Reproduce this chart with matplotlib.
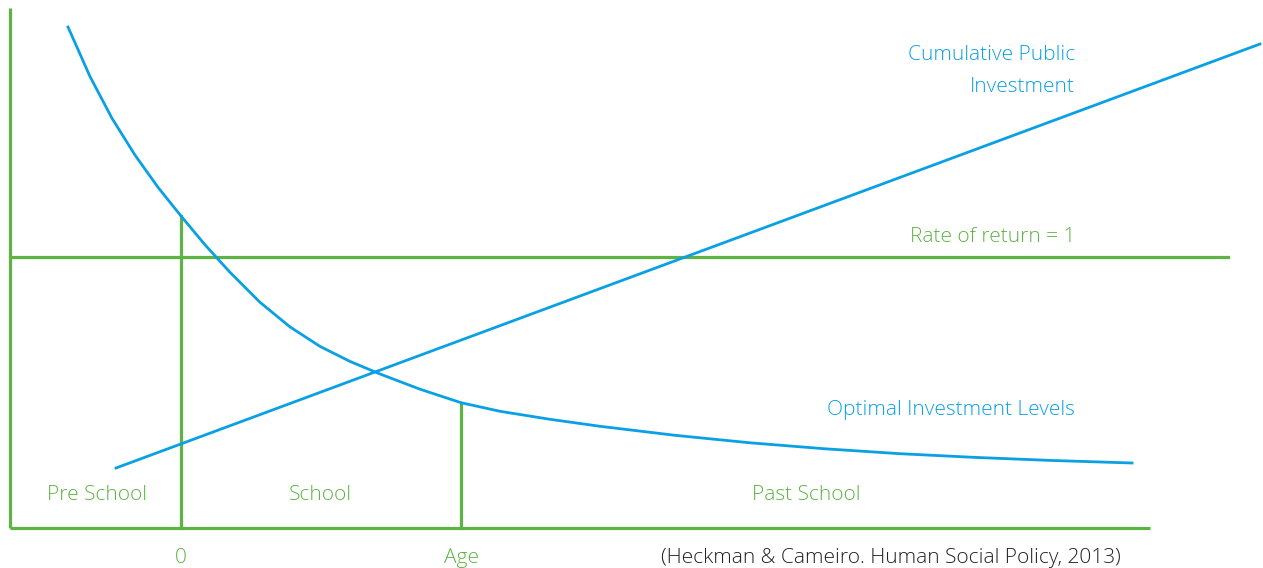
import numpy as np
import matplotlib
matplotlib.use("Agg")
import matplotlib.pyplot as plt

plt.rcParams['font.family'] = ['Open Sans', 'DejaVu Sans']

BLUE = '#0aa0e4'
GREEN = '#5db443'

# optimal investment levels (decaying curve)
opt_x = [68, 90, 112, 135, 158, 181, 205, 230, 260, 290, 320, 350, 380, 420, 461,
         500, 550, 600, 675, 750, 825, 900, 975, 1050, 1132]
opt_y = [541, 491.5, 449.7, 412.9, 380.7, 352, 323.2, 295.7, 265.7, 241.1, 221.6,
         206.6, 194, 178.8, 165.3, 156.7, 148.7, 141.7, 132.7, 125.2, 119.2,
         114.3, 110.6, 107.6, 105]
# cumulative public investment (straight line)
cum_x = [116, 1260]
cum_y = [100, 524]

rate_level = 311       # rate of return = 1
age0_x, age_end_x = 181, 461

stages = ['Pre School', 'School', 'Past School']
stage_x = [97, 320, 806]

fig = plt.figure(figsize=(12.63, 5.68), dpi=100)
ax = fig.add_axes([0, 0, 1, 1])
ax.set_xlim(0, 1263)
ax.set_ylim(0, 568)
ax.axis('off')

# axes lines
ax.plot([10, 10], [40, 560], color=GREEN, lw=2.3, solid_capstyle='butt')
ax.plot([10, 1150], [40, 40], color=GREEN, lw=2.3, solid_capstyle='butt')
ax.plot([10, 1228], [rate_level, rate_level], color=GREEN, lw=2.3)

# stage dividers up to the curve
y0 = np.interp(age0_x, opt_x, opt_y)
y1 = np.interp(age_end_x, opt_x, opt_y)
ax.plot([age0_x, age0_x], [40, y0], color=GREEN, lw=2.3)
ax.plot([age_end_x, age_end_x], [40, y1], color=GREEN, lw=2.3)

# curves
ax.plot(opt_x, opt_y, color=BLUE, lw=2, solid_joinstyle='round')
ax.plot(cum_x, cum_y, color=BLUE, lw=2)

fs = 15
kw = dict(fontsize=fs, va='center', fontweight='light')
for s, x in zip(stages, stage_x):
    ax.text(x, 73, s, color=GREEN, ha='center', **kw)
ax.text(age0_x, 10, '0', color=GREEN, ha='center', **kw)
ax.text(age_end_x, 10, 'Age', color=GREEN, ha='center', **kw)
ax.text(891, 10, '(Heckman & Cameiro. Human Social Policy, 2013)', color='#222222',
        ha='center', **kw)
ax.text(1075, 331, 'Rate of return = 1', color=GREEN, ha='right', **kw)
ax.text(1075, 158, 'Optimal Investment Levels', color=BLUE, ha='right', **kw)
ax.text(1075, 497, 'Cumulative Public\nInvestment', color=BLUE, ha='right',
        linespacing=1.75, **kw)

fig.savefig('out.png', dpi=100)
